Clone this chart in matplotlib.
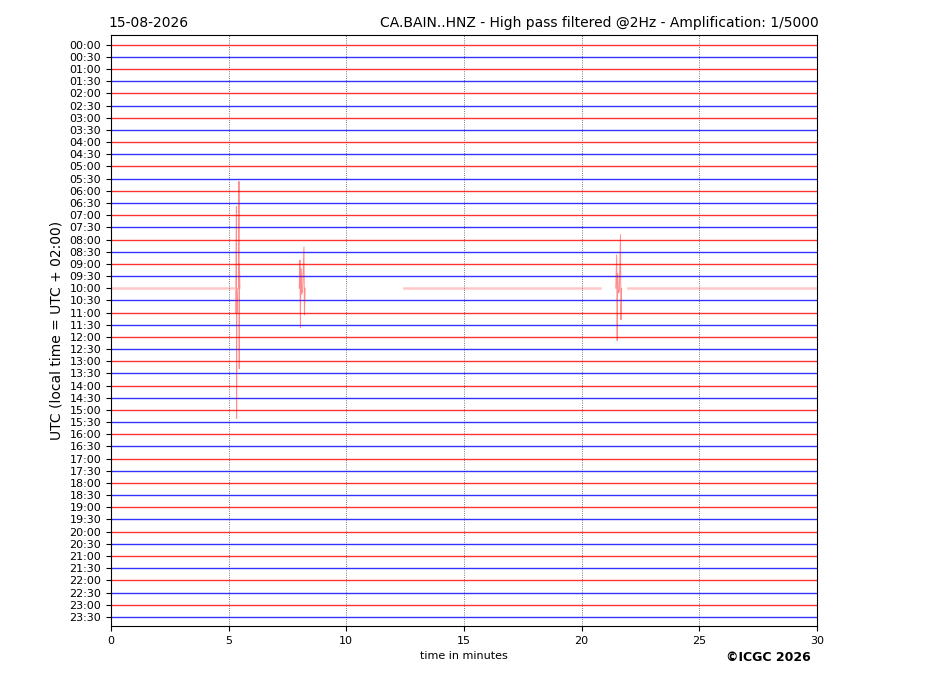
import matplotlib
matplotlib.use("Agg")
from matplotlib import pyplot as plt

# one trace per half hour, 30 minutes wide
row_labels = ["%02d:%02d" % (h, m) for h in range(24) for m in (0, 30)]
row_colors = ["red", "blue"] * 24

# 10:00 trace has gaps in the data (start, end in minutes)
gap_row = 20
gap_segments = [(0.0, 5.2), (12.45, 20.78), (21.96, 30.0)]

# events: row, times (min), amplitude offsets (in rows, + is up)
event_rows = [20, 22, 20, 20]
event_times = [
    [5.42, 5.44, 5.45, 5.46, 5.48],
    [5.30, 5.33, 5.34, 5.35, 5.38],
    [8.00, 8.03, 8.05, 8.07, 8.10, 8.14, 8.20, 8.22, 8.25],
    [21.45, 21.49, 21.51, 21.53, 21.56, 21.60, 21.65, 21.67, 21.70],
]
event_amps = [
    [0.0, 8.77, -6.62, 2.0, 0.0],
    [0.0, 8.70, -8.70, 2.0, 0.0],
    [0.0, 2.30, -3.25, 1.6, -0.5, -0.3, 3.40, -2.2, 0.0],
    [0.0, 2.74, -4.30, 1.2, -0.4, -0.3, 4.40, -2.6, 0.0],
]

fig = plt.figure(figsize=(9.27, 6.96), dpi=100)
ax = fig.add_axes([0.1197, 0.1006, 0.7616, 0.8491])

for i, lab in enumerate(row_labels):
    if i == gap_row:
        for a, b in gap_segments:
            ax.plot([a, b], [i, i], color="red", alpha=0.22, lw=1.8)
        continue
    ax.plot([0, 30], [i, i], color=row_colors[i], alpha=0.8, lw=1.0)

for r, ts, amps in zip(event_rows, event_times, event_amps):
    ax.plot(ts, [r - a for a in amps], color="red", alpha=0.45, lw=0.7)

ax.set_xlim(0, 30)
ax.set_ylim(47.75, -0.8)
ax.set_xticks([0, 5, 10, 15, 20, 25, 30])
ax.set_yticks(range(len(row_labels)))
ax.set_yticklabels(row_labels)
ax.tick_params(labelsize=8)
ax.grid(axis="x", ls=":", color="0.3", lw=0.6)
ax.set_xlabel("time in minutes", fontsize=8)
ax.set_ylabel("UTC (local time = UTC + 02:00)", fontsize=10)
ax.set_title("15-08-2026", loc="left", fontsize=10, pad=6, x=-0.004)
ax.set_title("CA.BAIN..HNZ - High pass filtered @2Hz - Amplification: 1/5000",
             loc="right", fontsize=10, pad=6, x=1.003)
fig.text(0.875, 0.05, "\u00a9ICGC 2026", ha="right", fontsize=9, weight="bold")

fig.savefig("out.png")
